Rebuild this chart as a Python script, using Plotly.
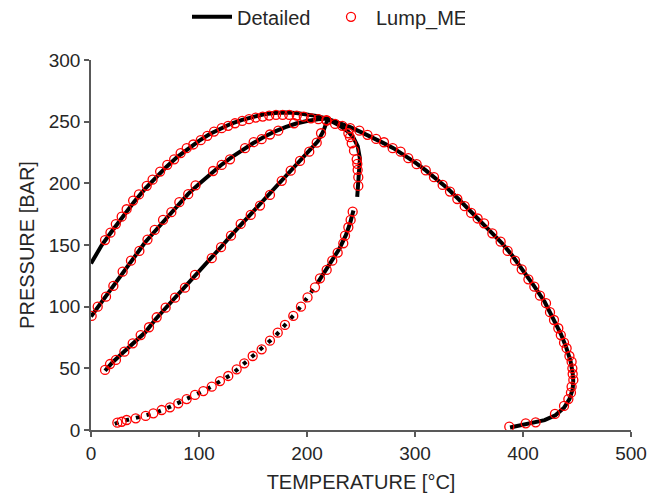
import plotly.graph_objects as go

# ---------------- Detailed (black line) ----------------
det_env_T = [0, 10, 20, 30, 40, 50, 60, 70, 80, 90, 100, 110, 120, 130, 140, 150, 160, 170, 180, 190,
             200, 210, 220, 230, 240, 250, 260, 270, 280, 290, 300, 310, 320, 330, 340, 350, 360, 370,
             380, 390, 400, 410, 420, 430, 435, 440, 444, 446, 446.5, 446, 443, 438, 430, 420, 405, 388]
det_env_P = [135, 150, 162, 174, 185, 195.5, 205, 213.5, 221.5, 228.5, 234.5, 240, 244.5, 248.5, 251.5, 254, 256, 257, 257.5, 257,
             256, 254.5, 252, 249, 245.5, 241.5, 237.5, 233, 228.5, 223, 217, 210.5, 203.5, 196, 187.5, 178.5, 170, 161,
             152, 141.5, 129.5, 117, 104, 87.5, 78, 67, 56, 46, 40, 33, 25, 18, 12, 8, 5, 2]

det_q1_T = [0, 10, 20, 30, 40, 50, 60, 70, 80, 90, 100, 110, 120, 130, 140, 150, 160, 170, 180, 190, 200, 210, 219]
det_q1_P = [92, 104, 116, 128.5, 140, 152, 162, 172, 182, 191.5, 199.5, 207.5, 214.5, 221, 227, 232.5, 237.5, 242, 245.5, 248.5, 250.5, 252, 252.5]

det_q2_T = [13, 20, 30, 40, 50, 60, 70, 80, 90, 100, 110, 120, 130, 140, 150, 160, 170, 180, 190, 200, 210, 215, 219]
det_q2_P = [48, 55, 63, 70.5, 79, 90, 99.5, 109, 118.5, 128.5, 138, 148, 158, 167.5, 176.5, 185.5, 195.5, 205, 215, 224, 234, 242, 251.5]

det_q3a_T = [22, 30, 40, 50, 60, 70, 80, 90, 100, 110, 120, 130, 140, 150, 160, 170, 180, 190, 200, 210]
det_q3a_P = [5, 7.5, 9.5, 11.5, 14, 17.5, 21.5, 25.5, 30, 34.5, 40, 45, 52.5, 60, 67.5, 75.5, 85.5, 95.5, 107, 119.5]

det_q3b_T = [210, 220, 230, 236, 240, 243]
det_q3b_P = [119.5, 133, 147, 158, 168, 178]

det_q3c_T = [246.5, 247.5, 248.5, 249, 247, 243, 238, 230, 219]
det_q3c_P = [189, 200, 210, 220, 230, 237, 242, 247, 252]

# ---------------- Lump_ME (red open circles) ----------------
lump_env_T = [13, 18, 23, 28.4, 33, 39, 44.4, 51.6, 57, 64, 70.6, 77, 83, 88.6, 94.7, 101.6, 107.7, 113.9, 121, 127,
              133.3, 140, 146.3, 152.5, 159, 165, 171.3, 177.5, 183.6, 190.5, 197, 203.7, 210.5, 218, 226, 232.7, 240, 248.5, 256, 264,
              271.3, 279.3, 286.7, 293.8, 301.5, 310, 317.6, 325.6, 332.4, 339.2, 346, 352, 358, 364, 371.6, 379.3, 385.8, 392.6, 398.8, 405,
              410.5, 415.7, 421.3, 425, 428.7, 432.7, 435, 438, 440.4, 443, 445, 445.7, 446, 446.6, 445, 444.4, 442, 438, 429.6, 411.7,
              402.5, 387.3]
lump_env_P = [154, 160, 167, 173, 179, 186, 191, 198, 203, 209.5, 215, 219.5, 224.5, 228.5, 231.5, 235, 238.5, 242, 244.7, 246.6,
              248.7, 250.6, 252, 253.3, 254.1, 254.9, 255.5, 255.5, 255.5, 254.9, 254.1, 252.7, 252, 251.3, 248.2, 246.6, 244.7, 242.7, 239.3, 236,
              233.3, 228.5, 225.7, 220.4, 215.5, 210.5, 205, 198.7, 193.3, 187.3, 181.5, 176, 171.5, 167.6, 159.5, 152.7, 145.2, 137.3, 130.3, 122.2,
              116.2, 108.9, 102.8, 95.5, 89.2, 82.5, 77, 70.8, 66.3, 60, 55.4, 50, 45.4, 40.6, 35.1, 30.3, 25.1, 19.5, 13, 6.2,
              5.4, 2.7]

lump_q1_T = [0.6, 6.2, 13.9, 20.7, 29.3, 37, 44.8, 52.3, 59, 66.7, 74.4, 81.8, 90, 96.8, 113, 121, 128.7, 142.6, 150.6, 158, 165.7, 173.4, 188]
lump_q1_P = [92.5, 100, 108.1, 116.8, 128.4, 137.3, 145.2, 154.4, 162.2, 170.3, 176.6, 184.7, 191.2, 198.3, 210, 214.9, 219.5, 228.5, 233.4, 235.8, 239.6, 242.7, 248.7]

lump_q2_T = [13, 17.6, 23.1, 30.9, 38.6, 46, 53.7, 60.8, 69.1, 77.8, 87, 96.3, 111.8, 120.4, 129.6, 138.6, 147.9, 156.5, 165.7, 176.6, 184.9, 193.5, 202.1, 209, 213, 218.2]
lump_q2_P = [48.7, 53.5, 56.8, 63.5, 70.3, 77, 83.3, 91.4, 99.2, 107.3, 115.4, 125.7, 139.3, 148.2, 157.6, 167.1, 174.4, 182, 190.6, 202, 210.3, 218.2, 225.7, 233, 240.6, 250.9]

lump_q3_T = [24.4, 28.4, 33, 41.4, 50.6, 57.7, 65.4, 73.1, 80.8, 88.6, 96.3, 104, 111.8, 119.4, 127.1, 134.9, 141.9, 149.7, 158, 165.7,
             172.9, 179.6, 187.3, 194.4, 200.5, 207.4, 212, 218.2, 223.4, 228.4, 233.6, 235.2, 238.3, 240.4, 242.3]
lump_q3_P = [5.9, 6.7, 8.1, 9.5, 11.4, 13.5, 16.2, 18.4, 21.6, 25.1, 28.4, 31.6, 35.1, 39.7, 43.8, 49.2, 54.1, 60, 65.4, 72.4,
             78.9, 85.2, 92.5, 100, 107.5, 115.7, 123, 129.8, 137.3, 143.8, 151.4, 157.6, 164.4, 170.3, 177]

lump_q3u_T = [247.5, 247.5, 246.9, 246.6, 246, 243.5, 241.4, 239.8, 238.3]
lump_q3u_P = [197.9, 205, 210.9, 215.7, 219.5, 226.5, 232.5, 237.4, 240.6]

x_ticks = [0, 100, 200, 300, 400, 500]
y_ticks = [0, 50, 100, 150, 200, 250, 300]

FONT = "Liberation Sans, Arial, sans-serif"
TXT = "#262626"
BLACK_W = 4

fig = go.Figure()

def det(T, P, show=False, dash="solid"):
    fig.add_trace(go.Scatter(x=T, y=P, mode="lines", name="Detailed", legendgroup="det",
                             showlegend=show, line=dict(color="#000000", width=BLACK_W, dash=dash)))

det(det_env_T, det_env_P, show=True)
det(det_q1_T, det_q1_P)
det(det_q2_T, det_q2_P)
det(det_q3a_T, det_q3a_P, dash="4px,7px")
det(det_q3b_T, det_q3b_P)
det(det_q3c_T, det_q3c_P)

lump_T = lump_env_T + [None] + lump_q1_T + [None] + lump_q2_T + [None] + lump_q3_T + [None] + lump_q3u_T
lump_P = lump_env_P + [None] + lump_q1_P + [None] + lump_q2_P + [None] + lump_q3_P + [None] + lump_q3u_P
fig.add_trace(go.Scatter(x=lump_T, y=lump_P, mode="markers", name="Lump_ME",
                         marker=dict(symbol="circle-open", size=9, color="#FF0000",
                                     line=dict(width=1.3, color="#FF0000"))))

axis_common = dict(showgrid=False, zeroline=False, showline=True, linecolor="#595959", linewidth=1.5,
                   ticks="outside", ticklen=5, tickcolor="#595959", tickwidth=1.5, automargin=False,
                   tickfont=dict(family=FONT, size=19, color=TXT))

fig.update_xaxes(range=[0, 500], tickvals=x_ticks, ticktext=[str(v) for v in x_ticks],
                 title=dict(text="TEMPERATURE [°C]", font=dict(family=FONT, size=20, color=TXT), standoff=12),
                 **axis_common)
fig.update_yaxes(range=[0, 300], tickvals=y_ticks, ticktext=[str(v) for v in y_ticks],
                 title=dict(text="PRESSURE [BAR]", font=dict(family=FONT, size=20, color=TXT), standoff=9),
                 **axis_common)

fig.update_layout(
    width=652, height=495,
    margin=dict(l=91, r=21, t=60, b=65, autoexpand=False),
    paper_bgcolor="white", plot_bgcolor="white",
    font=dict(family=FONT, size=19, color=TXT),
    legend=dict(orientation="h", x=0.5, xanchor="center", xref="container",
                y=0.966, yanchor="middle", yref="container",
                font=dict(family=FONT, size=20, color=TXT),
                itemwidth=40, tracegroupgap=0, entrywidth=84),
    showlegend=True,
)

fig.write_html("out.html")
